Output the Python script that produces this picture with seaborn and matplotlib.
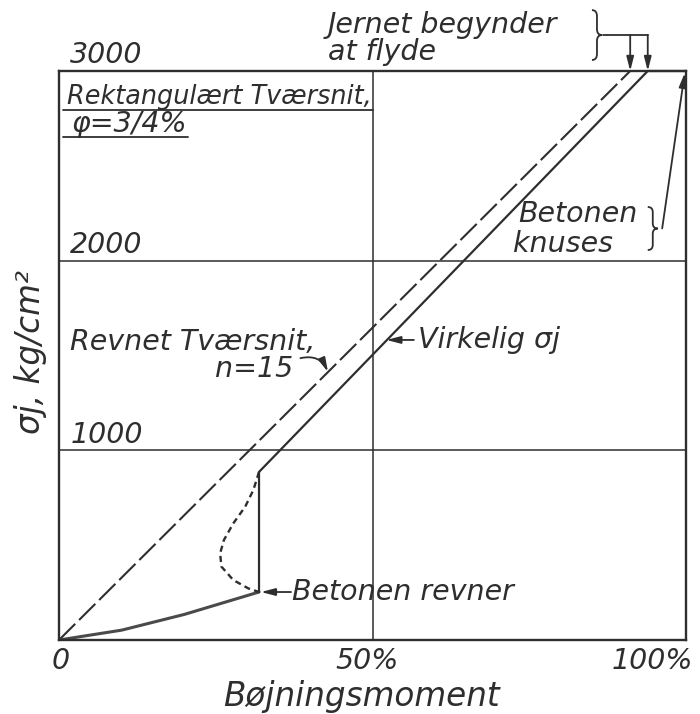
import matplotlib
matplotlib.use("Agg")
import matplotlib.pyplot as plt
from matplotlib.path import Path
from matplotlib.patches import PathPatch
import seaborn as sns

# Steel stress sigma_j (kg/cm^2) against bending moment (% of failure moment)
# Rectangular section, reinforcement ratio 3/4 %.

# Cracked section, n = 15 (straight line)
cracked_moment = [0.0, 91.1]
cracked_sigma = [0, 3000]

# Uncracked stage up to first cracking of the concrete
uncracked_moment = [0.0, 10.0, 20.0, 31.9]
uncracked_sigma = [0, 52, 135, 253]

# Actual steel stress after cracking, up to yield and crushing
actual_moment = [31.9, 31.9, 93.9, 100.0]
actual_sigma = [253, 886, 3000, 3000]

# Gradual transition between uncracked and cracked behaviour
transition_moment = [31.9, 31.0, 29.7, 27.8, 26.3, 25.7, 25.9, 27.8, 30.2, 31.9]
transition_sigma = [886, 791, 703, 615, 527, 457, 387, 316, 272, 253]

y_ticks = [1000, 2000, 3000]
y_tick_labels = ["1000", "2000", "3000"]
x_ticks = [0, 50, 100]
x_tick_labels = ["0", "50%", "100%"]

sns.set_theme(style="white")
plt.rcParams["font.family"] = ["DejaVu Sans"]
plt.rcParams["font.style"] = "oblique"

INK = "#2e2e2e"
FS = 20.5

fig = plt.figure(figsize=(7.0, 7.14), dpi=100)
ax = fig.add_axes([59 / 700, 74 / 714, 627 / 700, 569 / 714])
ax.set_xlim(0, 100)
ax.set_ylim(0, 3000)

# frame and grid
for s in ax.spines.values():
    s.set_color(INK)
    s.set_linewidth(1.7)
ax.set_xticks(x_ticks)
ax.set_yticks([0] + y_ticks)
ax.tick_params(length=0, labelbottom=False, labelleft=False)
ax.grid(True, color=INK, linewidth=1.1)

# curves
sns.lineplot(x=cracked_moment, y=cracked_sigma, ax=ax, color=INK,
             linewidth=1.5, sort=False, estimator=None)
ax.lines[-1].set_dashes((11, 2.6))

sns.lineplot(x=uncracked_moment, y=uncracked_sigma, ax=ax, color="#4a4a4a",
             linewidth=2.2, sort=False, estimator=None)

sns.lineplot(x=actual_moment, y=actual_sigma, ax=ax, color=INK,
             linewidth=1.6, sort=False, estimator=None)
ax.lines[-1].set_clip_on(False)

sns.lineplot(x=transition_moment, y=transition_sigma, ax=ax, color=INK,
             linewidth=1.7, sort=False, estimator=None)
ax.lines[-1].set_dashes((2.6, 1.8))

# tick labels
for v, lab in zip(y_ticks, y_tick_labels):
    ax.text(1.8, v + 40, lab, fontsize=FS, ha="left", va="baseline", color=INK)
ax.text(x_ticks[0] + 0.2, -110, x_tick_labels[0], fontsize=FS, ha="center", va="center", color=INK)
ax.text(x_ticks[1] - 0.8, -110, x_tick_labels[1], fontsize=FS, ha="center", va="center", color=INK)
ax.text(x_ticks[2] + 1.2, -110, x_tick_labels[2], fontsize=FS, ha="right", va="center", color=INK)

# axis titles
ax.text(0.483, -0.100, "Bøjningsmoment", transform=ax.transAxes, fontsize=23.5,
        ha="center", va="center", color=INK)
ax.text(-0.045, 0.506, "σj, kg/cm²", transform=ax.transAxes, fontsize=23.5,
        ha="center", va="center", rotation=90, color=INK)

# section description
ax.text(1.3, 2826, "Rektangulært Tværsnit,", fontsize=18.4, color=INK)
ax.plot([0.6, 50], [2794, 2794], color=INK, linewidth=1.3)
ax.text(2.0, 2678, "φ=3/4%", fontsize=FS, color=INK)
ax.plot([0.6, 20.6], [2652, 2652], color=INK, linewidth=1.3)


def curly_brace(x, y_bottom, y_top, width):
    xm = x + width / 2
    ym = (y_bottom + y_top) / 2
    d = (y_top - y_bottom) * 0.12
    verts = [(x, y_top), (xm, y_top), (xm, y_top - d),
             (xm, ym + d), (xm, ym), (x + width, ym),
             (xm, ym), (xm, ym - d),
             (xm, y_bottom + d), (xm, y_bottom), (x, y_bottom)]
    codes = [Path.MOVETO, Path.CURVE3, Path.CURVE3, Path.LINETO,
             Path.CURVE3, Path.CURVE3, Path.CURVE3, Path.CURVE3,
             Path.LINETO, Path.CURVE3, Path.CURVE3]
    ax.add_patch(PathPatch(Path(verts, codes), fill=False, edgecolor=INK,
                           linewidth=1.3, clip_on=False))


arrow = dict(arrowstyle="-|>,head_length=0.7,head_width=0.18", color=INK,
             linewidth=1.3, shrinkA=0, shrinkB=0)

# steel yields
ax.text(42.9, 3200, "Jernet begynder", fontsize=FS, color=INK)
ax.text(42.9, 3058, "at flyde", fontsize=FS, color=INK)
curly_brace(85.0, 3058, 3321, 1.6)
ax.plot([86.8, 93.9], [3190, 3190], color=INK, linewidth=1.3, clip_on=False)
for xm in (cracked_moment[-1], actual_moment[2]):
    ax.annotate("", xy=(xm, 3000), xytext=(xm, 3190), arrowprops=arrow,
                annotation_clip=False)

# concrete crushes
ax.text(73.2, 2204, "Betonen", fontsize=FS, color=INK)
ax.text(72.4, 2046, "knuses", fontsize=FS, color=INK)
curly_brace(93.9, 2056, 2283, 1.6)
ax.annotate("", xy=(99.8, 2990), xytext=(96.2, 2170), arrowprops=arrow,
            annotation_clip=False)

# line labels
ax.text(1.8, 1529, "Revnet Tværsnit,", fontsize=FS, color=INK)
ax.text(24.9, 1387, "n=15", fontsize=FS, color=INK)
ax.annotate("", xy=(42.9, 1413), xytext=(38.5, 1486),
            arrowprops=dict(arrow, connectionstyle="arc3,rad=-0.4"))

ax.text(57.3, 1540, "Virkelig σj", fontsize=FS, color=INK)
ax.annotate("", xy=(52.2, 1582), xytext=(56.6, 1582), arrowprops=arrow)

ax.text(37.2, 211, "Betonen revner", fontsize=FS, color=INK)
ax.annotate("", xy=(32.2, 253), xytext=(37.0, 253), arrowprops=arrow)

fig.savefig("out.png", dpi=100)
